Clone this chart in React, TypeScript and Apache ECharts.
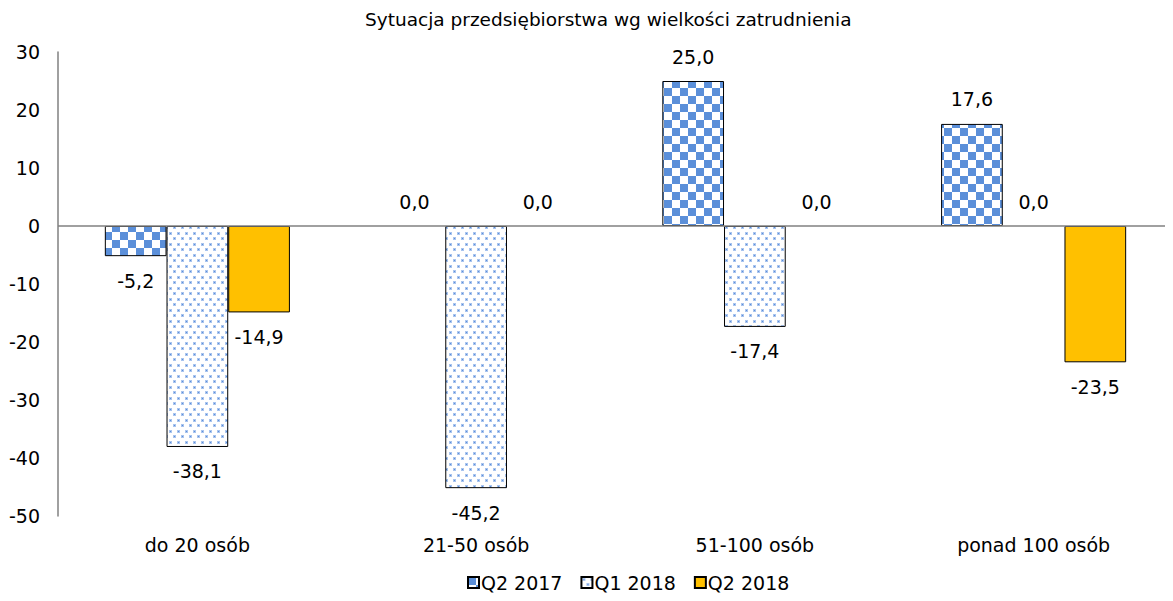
import React, { useEffect, useRef } from "react";
import * as echarts from "echarts";

const categories = ["do 20 osób", "21-50 osób", "51-100 osób", "ponad 100 osób"];
const seriesNames = ["Q2 2017", "Q1 2018", "Q2 2018"];
const q2_2017 = [-5.2, 0.0, 25.0, 17.6];
const q1_2018 = [-38.1, -45.2, -17.4, 0.0];
const q2_2018 = [-14.9, 0.0, 0.0, -23.5];
const yTicks = { min: -50, max: 30, interval: 10 };

const FONT = "DejaVu Sans";
const BLUE = "#5B8FD9";

function checker(): HTMLCanvasElement {
  const c = document.createElement("canvas");
  c.width = 16;
  c.height = 16;
  const ctx = c.getContext("2d")!;
  ctx.fillStyle = "#ffffff";
  ctx.fillRect(0, 0, 16, 16);
  ctx.fillStyle = BLUE;
  ctx.fillRect(0, 0, 8, 8);
  ctx.fillRect(8, 8, 8, 8);
  return c;
}

function dots(): HTMLCanvasElement {
  const c = document.createElement("canvas");
  c.width = 8;
  c.height = 11;
  const ctx = c.getContext("2d")!;
  ctx.fillStyle = "#ffffff";
  ctx.fillRect(0, 0, 8, 11);
  ctx.fillStyle = "#A9C4EE";
  ctx.fillRect(1, 1, 3, 3);
  ctx.fillRect(5, 6, 3, 3);
  ctx.fillStyle = "#5B8FD9";
  ctx.fillRect(2, 2, 1, 1);
  ctx.fillRect(6, 7, 1, 1);
  return c;
}

const fmt = (v: number) => v.toFixed(1).replace(".", ",");

function items(vals: number[]) {
  return vals.map((v) => ({
    value: v,
    label: { position: v < 0 ? "bottom" : "top" },
    itemStyle: v === 0 ? { borderWidth: 0 } : undefined,
  }));
}

export default function App() {
  const ref = useRef<HTMLDivElement>(null);
  useEffect(() => {
    if (!ref.current) return;
    const chart = echarts.init(ref.current, null, { renderer: "svg" });
    const colors: any[] = [
      { image: checker(), repeat: "repeat" },
      { image: dots(), repeat: "repeat" },
      "#FFC000",
    ];
    const data = [q2_2017, q1_2018, q2_2018];
    chart.setOption({
      animation: false,
      title: {
        text: "Sytuacja przedsiębiorstwa wg wielkości zatrudnienia",
        left: 360,
        top: 5,
        textStyle: { fontFamily: FONT, fontSize: 18.5, fontWeight: "normal", color: "#000" },
      },
      legend: {
        bottom: 4,
        left: 462,
        itemWidth: 11,
        itemHeight: 11,
        itemGap: 18,
        textStyle: { fontFamily: FONT, fontSize: 19, color: "#000", padding: [0, 0, 0, -3] },
        data: seriesNames.map((n) => ({ name: n, icon: "rect" })),
      },
      grid: { left: 58, right: -4, top: 52, bottom: 85, containLabel: false },
      xAxis: {
        type: "category",
        data: categories,
        axisLine: { show: false, onZero: false },
        axisTick: { show: false },
        axisLabel: { fontFamily: FONT, fontSize: 19, color: "#000", margin: 19 },
      },
      yAxis: {
        type: "value",
        min: yTicks.min,
        max: yTicks.max,
        interval: yTicks.interval,
        axisLine: { show: true, lineStyle: { color: "#808080", width: 1.5 } },
        axisTick: { show: false },
        splitLine: { show: false },
        axisLabel: { fontFamily: FONT, fontSize: 19, color: "#000", margin: 18 },
      },
      series: data.map((d, i) => ({
        name: seriesNames[i],
        type: "bar",
        data: items(d),
        barGap: "0%",
        barCategoryGap: "33.6%",
        itemStyle: { color: colors[i], borderColor: "#000", borderWidth: 1 },
        label: {
          show: true,
          fontFamily: FONT,
          fontSize: 19,
          color: "#000",
          distance: 15,
          formatter: (p: any) => fmt(p.value),
        },
        markLine:
          i === 0
            ? {
                silent: true,
                symbol: "none",
                label: { show: false },
                lineStyle: { color: "#808080", type: "solid", width: 1.5 },
                data: [{ yAxis: 0 }],
              }
            : undefined,
      })),
    });
    return () => chart.dispose();
  }, []);
  return <div ref={ref} style={{ width: 1173, height: 601, margin: -8 }} />;
}
